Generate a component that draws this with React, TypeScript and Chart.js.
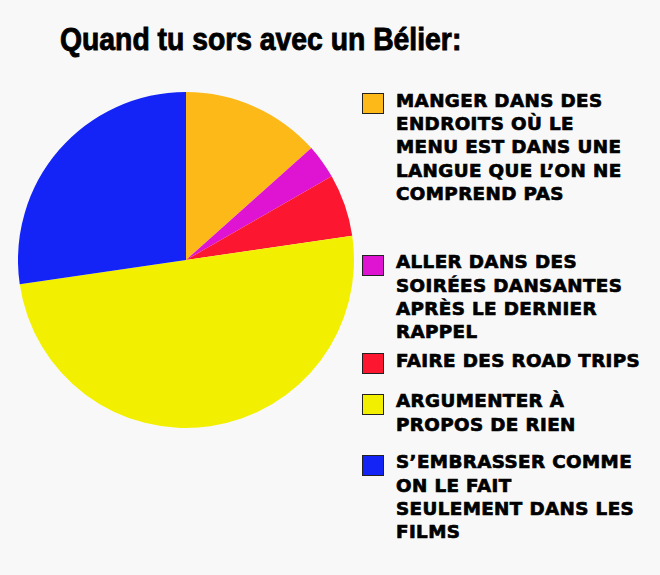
import React, { useEffect, useRef } from "react";
import { Chart, registerables } from "chart.js";

Chart.register(...registerables);

const title = "Quand tu sors avec un Bélier:";
const categories: string[][] = [
  ["MANGER DANS DES", "ENDROITS OÙ LE", "MENU EST DANS UNE", "LANGUE QUE L’ON NE", "COMPREND PAS"],
  ["ALLER DANS DES", "SOIRÉES DANSANTES", "APRÈS LE DERNIER", "RAPPEL"],
  ["FAIRE DES ROAD TRIPS"],
  ["ARGUMENTER À", "PROPOS DE RIEN"],
  ["S’EMBRASSER COMME", "ON LE FAIT", "SEULEMENT DANS LES", "FILMS"],
];
const values = [13.4, 3.3, 6.0, 50.0, 27.3];
const colors = ["#FDB918", "#DE14D2", "#FC1630", "#F2F000", "#1424F6"];
const legendTops = [93.3, 255, 353.3, 394, 455];

export default function App() {
  const ref = useRef<HTMLCanvasElement | null>(null);
  useEffect(() => {
    document.body.style.margin = "0";
    document.body.style.background = "#F8F8F8";
    if (!ref.current) return;
    const chart = new Chart(ref.current, {
      type: "pie",
      data: {
        labels: categories.map((l) => l.join(" ")),
        datasets: [
          {
            data: values,
            backgroundColor: colors,
            borderWidth: 0,
          },
        ],
      },
      options: {
        animation: false,
        responsive: false,
        maintainAspectRatio: false,
        layout: { padding: 0 },
        plugins: {
          legend: { display: false },
          title: { display: false },
          tooltip: { enabled: false },
        },
      },
    });
    return () => chart.destroy();
  }, []);

  const fontSize = 18.3;
  const lineH = 23.3;
  const capOffset = 4.65;

  return (
    <div style={{ position: "relative", width: 660, height: 575, background: "#F8F8F8", overflow: "hidden" }}>
      <div
        style={{
          position: "absolute",
          left: 60,
          top: 22.8,
          fontFamily: "'Liberation Sans', Arial, sans-serif",
          fontWeight: 700,
          fontSize: 32,
          lineHeight: "32px",
          letterSpacing: "0px",
          color: "#000",
          whiteSpace: "nowrap",
          WebkitTextStroke: "0.9px #000",
          transform: "scaleX(0.885)",
          transformOrigin: "0 0",
        }}
      >
        {title}
      </div>
      <canvas
        ref={ref}
        width={336}
        height={336}
        style={{ position: "absolute", left: 17.5, top: 92, width: 336, height: 336 }}
      />
      {categories.map((lines, i) => (
        <div key={i}>
          <div
            style={{
              position: "absolute",
              left: 362,
              top: legendTops[i] - 0.5,
              width: 20,
              height: 19,
              background: colors[i],
              border: "1px solid #222",
            }}
          />
          <div
            style={{
              position: "absolute",
              left: 396,
              top: legendTops[i] - capOffset,
              fontFamily: "'DejaVu Sans', sans-serif",
              fontWeight: 700,
              fontSize: fontSize,
              lineHeight: lineH + "px",
              letterSpacing: "0.4px",
              color: "#000",
              whiteSpace: "nowrap",
              WebkitTextStroke: "0.7px #000",
            }}
          >
            {lines.map((t, j) => (
              <div key={j}>{t}</div>
            ))}
          </div>
        </div>
      ))}
    </div>
  );
}
